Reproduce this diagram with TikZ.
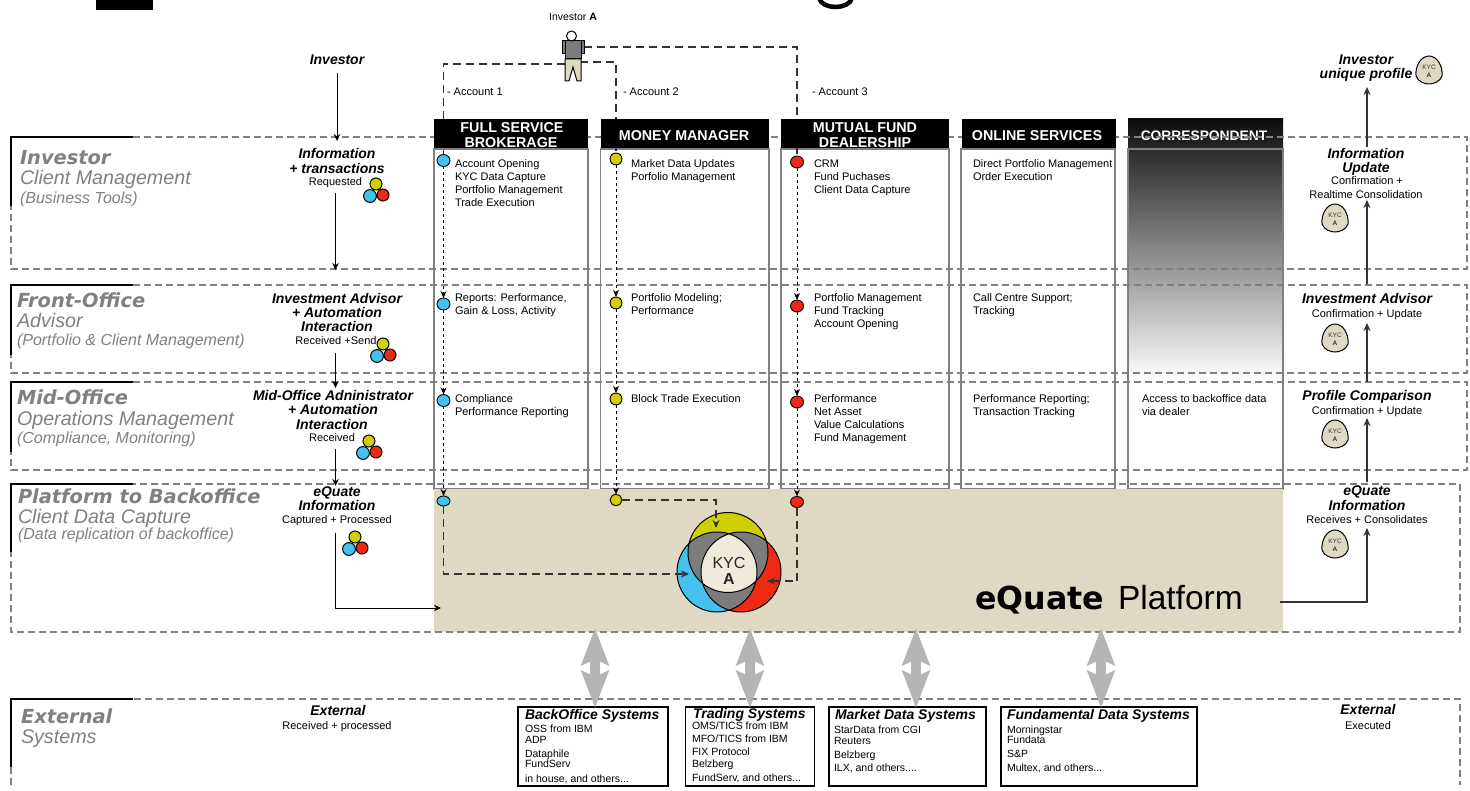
\documentclass[tikz,border=0pt]{standalone}
\usepackage{fontspec}
\setmainfont{Liberation Sans}
\newfontfamily\heavy{DejaVu Sans}
\usetikzlibrary{arrows.meta,shapes.geometric,positioning}
\definecolor{beige}{HTML}{DFD9C4}
\definecolor{core}{HTML}{EFEADB}
\definecolor{cblue}{HTML}{45C1EF}
\definecolor{cyel}{HTML}{CFCF05}
\definecolor{cred}{HTML}{EE2A14}
\definecolor{lgray}{HTML}{808080}
\definecolor{vgray}{HTML}{7C7C7C}
\definecolor{dgray}{HTML}{333333}
\definecolor{arrowgray}{HTML}{B4B4B4}
\newcommand{\fs}[2]{\fontsize{#1}{#2}\selectfont}
\tikzset{
 x=1pt,y=-1pt,
 every node/.style={inner sep=0pt,outer sep=0pt},
 band/.style={draw=lgray,line width=1.1pt,dash pattern=on 7pt off 4pt},
 corner/.style={draw=black,line width=2.4pt,line join=miter},
 colbox/.style={draw=lgray,line width=1.1pt,fill=white},
 headbox/.style={fill=black,anchor=north west,minimum height=29pt},
 headtxt/.style={text=white,font=\bfseries\fs{14.3}{15},align=center,anchor=base},
 hv/.style={text=lgray,anchor=base west,font=\heavy\bfseries\itshape\fs{19.4}{20}},
 mid/.style={text=lgray,anchor=base west,font=\itshape\fs{19.7}{20}},
 par/.style={text=lgray,anchor=base west,font=\itshape\fs{16}{18}},
 bi/.style={anchor=base,font=\bfseries\itshape\fs{14}{14}},
 rg/.style={anchor=base,font=\fs{11}{13}},
 body/.style={anchor=north west,align=left,font=\fs{11}{13}},
 dotb/.style={ellipse,draw=black,line width=0.9pt,fill=cblue,minimum width=13pt,minimum height=12pt},
 doty/.style={dotb,fill=cyel,minimum width=12pt},
 dotr/.style={dotb,fill=cred},
 acct/.style={draw=dgray,line width=1.3pt,dash pattern=on 8pt off 5pt},
 thin dots/.style={draw=black,line width=1pt,dash pattern=on 3pt off 3pt,-{Stealth[length=7pt,width=6pt]}},
 thick dash/.style={draw=dgray,line width=1.3pt,dash pattern=on 8pt off 5pt,-{Stealth[length=8pt,width=7pt]}},
 flow/.style={draw=black,line width=1pt,-{Stealth[length=7pt,width=6.5pt]}},
 flowg/.style={draw=dgray,line width=1.3pt,-{Stealth[length=8pt,width=7pt]}},
 sysbox/.style={draw=black,line width=1.1pt,fill=white,anchor=north west,minimum height=79pt},
 sysarrow/.style={draw=arrowgray,line width=10pt,{Stealth[length=37pt,width=27pt,inset=6pt]}-{Stealth[length=37pt,width=27pt,inset=6pt]}},
 systitle/.style={anchor=base west,font=\bfseries\itshape\fs{14}{14}},
 syslines/.style={anchor=north west,align=left,font=\fs{10.5}{10}},
}
\newcommand{\trio}[2]{%
 \fill[cred,draw=black,line width=1pt] (#1+7,#2+11) circle[radius=6pt];
 \fill[cblue,draw=black,line width=1pt] (#1-6,#2+12) circle[radius=6.4pt];
 \fill[cyel,draw=black,line width=1pt] (#1,#2) circle[radius=6pt];
}
\newcommand{\badge}[3]{%
 \fill[beige,draw=black,line width=1pt] (#2,#3-14) .. controls (#2+8,#3-14) and (#2+14,#3-4) .. (#2+13,#3+6)
   .. controls (#2+11,#3+12) and (#2+4,#3+14) .. (#2,#3+14)
   .. controls (#2-4,#3+14) and (#2-11,#3+12) .. (#2-13,#3+6)
   .. controls (#2-14,#3-4) and (#2-8,#3-14) .. (#2,#3-14) -- cycle;
 \node[text=dgray,font=\fs{6.5}{7}] (#1k) at (#2,#3-3) {KYC};
 \node[text=dgray,font=\bfseries\fs{6.5}{7}] (#1a) at (#2,#3+5) {A};
}
\begin{document}
\begin{tikzpicture}
\useasboundingbox (0,0) rectangle (1470,791);
% cropped title remnants
\fill[black] (96,0) rectangle (153,10);
\draw[black,line width=4.5pt] (819,-2) .. controls (822,10) and (849,10) .. (852,-2);
% column boxes
\draw[colbox] (434,149) rectangle (588,489);
\draw[colbox] (600.5,149) rectangle (769,489);
\draw[colbox] (781,149) rectangle (949,489);
\draw[colbox] (961,149) rectangle (1115,489);
\shade[top color=black!83,bottom color=white] (1128,149) rectangle (1283,381);
\draw[draw=lgray,line width=1.1pt] (1128,149) rectangle (1283,489);
% platform
\node[fill=beige,anchor=north west,minimum width=849pt,minimum height=143pt] (plat) at (434,489) {};
% correspondent header (bands run over it)
\shade[top color=black!95,bottom color=black!85] (1128,119) rectangle (1283,148);
\node[headtxt,text=white,font=\bfseries\fs{13.8}{15}] (hc) at (1204,141) {CORRESPONDENT};
% bands
\draw[band] (11,137) rectangle (1467,269);
\draw[band] (11,285) rectangle (1467,373);
\draw[band] (11,382) rectangle (1467,470);
\draw[band] (11,484) rectangle (1460,632);
\draw[band] (11,785) -- (11,699) -- (1460,699) -- (1460,785);
\draw[corner] (133,137) -- (11,137) -- (11,206);
\draw[corner] (133,285) -- (11,285) -- (11,355);
\draw[corner] (133,382) -- (11,382) -- (11,452);
\draw[corner] (133,484) -- (11,484) -- (11,552);
\draw[corner] (133,699) -- (11,699) -- (11,767);
% dots
\node[dotb] (b1) at (443.5,160.5) {};
\node[dotb] (b2) at (443.5,304) {};
\node[dotb] (b3) at (443.5,400.5) {};
\node[dotb,minimum height=10pt] (b4) at (443.5,501) {};
\node[doty] (y1) at (616,159) {};
\node[doty] (y2) at (616,303) {};
\node[doty] (y3) at (616,399) {};
\node[doty,minimum height=11pt] (y4) at (616,500) {};
\node[dotr] (r1) at (797,162) {};
\node[dotr] (r2) at (797,306) {};
\node[dotr] (r3) at (797,402) {};
\node[dotr,minimum height=11pt] (r4) at (797,502) {};
% account lines
\coordinate (p1) at (565,64);
\coordinate (p2) at (580,62);
\coordinate (p3) at (584,47);
\draw[acct] (p1) -| (b1.north);
\draw[acct] (p2) -| (y1.north);
\draw[acct] (p3) -| (r1.north);
% headers
\node[headbox,minimum width=154pt] (h1) at (434,119) {};
\node[headbox,minimum width=168.5pt] (h2) at (600.5,119) {};
\node[headbox,minimum width=168pt] (h3) at (781,119) {};
\node[headbox,minimum width=154pt] (h4) at (962,119) {};
\begin{scope}
\clip (434,119) rectangle (949,148);
\node[headtxt] (h1a) at (512,133) {FULL SERVICE};
\node[headtxt] (h1b) at (511,148) {BROKERAGE};
\node[headtxt] (h3a) at (865,133) {MUTUAL FUND};
\node[headtxt] (h3b) at (865,148) {DEALERSHIP};
\end{scope}
\node[headtxt] (h2a) at (684,141) {MONEY MANAGER};
\node[headtxt] (h4a) at (1037,141) {ONLINE SERVICES};
% vertical dotted arrows
\draw[thin dots] (b1) -- (b2);
\draw[thin dots] (b2) -- (b3);
\draw[thin dots] (b3) -- (b4);
\draw[thin dots] (y1) -- (y2);
\draw[thin dots] (y2) -- (y3);
\draw[thin dots] (y3) -- (y4);
\draw[thin dots] (r1) -- (r2);
\draw[thin dots] (r2) -- (r3);
\draw[thin dots] (r3) -- (r4);
% venn
\coordinate (vy) at (728,552.5);
\coordinate (vb) at (717,572);
\coordinate (vr) at (741,572);
\fill[cblue] (vb) circle[radius=40pt];
\fill[cred] (vr) circle[radius=40pt];
\fill[cyel] (vy) circle[radius=40pt];
\begin{scope}\clip (vb) circle[radius=40pt]; \fill[vgray] (vr) circle[radius=40pt]; \fill[vgray] (vy) circle[radius=40pt];\end{scope}
\begin{scope}\clip (vr) circle[radius=40pt]; \fill[vgray] (vy) circle[radius=40pt];\end{scope}
\begin{scope}\clip (vb) circle[radius=40pt]; \clip (vr) circle[radius=40pt]; \fill[core] (vy) circle[radius=40pt];\end{scope}
\draw[black,line width=1pt] (vb) circle[radius=40pt] (vr) circle[radius=40pt] (vy) circle[radius=40pt];
\node[font=\fs{16}{16},text=black!85] (kyc) at (729,563) {KYC};
\node[font=\bfseries\fs{16}{16},text=black!85] (kyca) at (729,579) {A};
\coordinate (vt) at (716,528);
\coordinate (vl) at (689,574);
\coordinate (vd) at (767,581);
\draw[thick dash] (b4) |- (vl);
\draw[thick dash] (y4) -| (vt);
\draw[thick dash] (r4) |- (vd);
% person
\fill[vgray,draw=black,line width=1pt] (562,41) rectangle (584,54);
\fill[vgray,draw=black,line width=1pt] (565,41) rectangle (581,59);
\fill[beige,draw=black,line width=1pt] (565,59) -- (581,59) -- (581,81) -- (577,81) -- (573,67) -- (569,81) -- (565,81) -- cycle;
\fill[white,draw=black,line width=1pt] (571.5,36) circle[radius=5pt];
\node[font=\fs{10.5}{12},anchor=base] (inva) at (573,21) {Investor \textbf{A}};
\node[rg,anchor=base west] (ac1) at (447,96) {- Account 1};
\node[rg,anchor=base west] (ac2) at (623,96) {- Account 2};
\node[rg,anchor=base west] (ac3) at (812,96) {- Account 3};
% band titles
\node[hv] (l1a) at (20,165) {Investor};
\node[mid] (l1b) at (20,185) {Client Management};
\node[par] (l1c) at (20,204) {(Business Tools)};
\node[hv] (l2a) at (17,308) {Front-Office};
\node[mid] (l2b) at (17,328) {Advisor};
\node[par] (l2c) at (17,346) {(Portfolio \& Client Management)};
\node[hv] (l3a) at (17,405) {Mid-Office};
\node[mid] (l3b) at (17,425) {Operations Management};
\node[par] (l3c) at (17,443) {(Compliance, Monitoring)};
\node[hv] (l4a) at (18,503) {Platform to Backoffice};
\node[mid] (l4b) at (18,523) {Client Data Capture};
\node[par] (l4c) at (18,539) {(Data replication of backoffice)};
\node[hv] (l5a) at (21,723) {External};
\node[mid] (l5b) at (21,743) {Systems};
% left flow labels
\node[bi] (a0) at (337,65) {Investor};
\node[bi] (a1) at (337,159) {Information};
\node[bi] (a1b) at (337,174) {+ transactions};
\node[rg] (a1c) at (335.5,186) {Requested};
\node[bi] (a2) at (337,304) {Investment Advisor};
\node[bi] (a2b) at (337,318) {+ Automation};
\node[bi] (a2c) at (337,332) {Interaction};
\node[rg] (a2d) at (336,345) {Received +Send};
\node[bi] (a3) at (333,401) {Mid-Office Adninistrator};
\node[bi] (a3b) at (333,415) {+ Automation};
\node[bi] (a3c) at (332,429) {Interaction};
\node[rg] (a3d) at (332,442) {Received};
\node[bi] (a4) at (337,496) {eQuate};
\node[bi] (a4b) at (337,510) {Information};
\node[rg] (a4c) at (337,523) {Captured + Processed};
\node[bi] (a5) at (338,715) {External};
\node[rg] (a5b) at (337,729) {Received + processed};
\trio{376}{184}
\trio{383}{344}
\trio{369}{441}
\trio{355}{537}
% left flow arrows
\coordinate (f0a) at (337,73); \coordinate (f0b) at (337,141);
\coordinate (f1a) at (335.5,193); \coordinate (f1b) at (335.5,270);
\coordinate (f2a) at (335.5,353); \coordinate (f2b) at (335.5,388);
\coordinate (f3a) at (335.5,449); \coordinate (f3b) at (335.5,486);
\coordinate (f4a) at (335.5,533); \coordinate (f4b) at (441,608);
\draw[flow] (f0a) -- (f0b);
\draw[flow] (f1a) -- (f1b);
\draw[flow] (f2a) -- (f2b);
\draw[flow] (f3a) -- (f3b);
\draw[flow] (f4a) |- (f4b);
% column texts
\node[body] (c11) at (455,160) {Account Opening\\KYC Data Capture\\Portfolio Management\\Trade Execution};
\node[body] (c12) at (631,160) {Market Data Updates\\Porfolio Management};
\node[body] (c13) at (814,160) {CRM\\Fund Puchases\\Client Data Capture};
\node[body] (c14) at (973,160) {Direct Portfolio Management\\Order Execution};
\node[body] (c21) at (455,294) {Reports: Performance,\\Gain \& Loss, Activity};
\node[body] (c22) at (631,294) {Portfolio Modeling;\\Performance};
\node[body] (c23) at (814,294) {Portfolio Management\\Fund Tracking\\Account Opening};
\node[body] (c24) at (973,294) {Call Centre Support;\\Tracking};
\node[body] (c31) at (455,395) {Compliance\\Performance Reporting};
\node[body] (c32) at (631,395) {Block Trade Execution};
\node[body] (c33) at (814,395) {Performance\\Net Asset\\Value Calculations\\Fund Management};
\node[body] (c34) at (973,395) {Performance Reporting;\\Transaction Tracking};
\node[body] (c35) at (1142,395) {Access to backoffice data\\via dealer};
% platform label
\node[anchor=base west,font=\heavy\bfseries\fs{31.7}{32}] (pe) at (975,609) {eQuate};
\node[anchor=base west,font=\fs{33.5}{34}] (pp) at (1118,609) {Platform};
% right flow labels
\node[bi] (r0) at (1366,65) {Investor};
\node[bi] (r0b) at (1366,79) {unique profile};
\badge{bg0}{1429}{70}
\node[bi] (ri1) at (1366,159) {Information};
\node[bi] (ri1b) at (1366,173) {Update};
\node[rg] (ri1c) at (1367,185) {Confirmation +};
\node[rg] (ri1d) at (1366,199) {Realtime Consolidation};
\badge{bg1}{1335}{218}
\node[bi] (ri2) at (1367,304) {Investment Advisor};
\node[rg] (ri2b) at (1367,318) {Confirmation + Update};
\badge{bg2}{1335}{338}
\node[bi] (ri3) at (1367,401) {Profile Comparison};
\node[rg] (ri3b) at (1367,414) {Confirmation + Update};
\badge{bg3}{1335}{434}
\node[bi] (ri4) at (1367,495) {eQuate};
\node[bi] (ri4b) at (1367,510) {Information};
\node[rg] (ri4c) at (1367,523) {Receives + Consolidates};
\badge{bg4}{1335}{544}
\node[bi] (ri5) at (1368,714) {External};
\node[rg] (ri5b) at (1368,729) {Executed};
\coordinate (g0a) at (1367,147); \coordinate (g0b) at (1367,87);
\coordinate (g1a) at (1367,284); \coordinate (g1b) at (1367,200);
\coordinate (g2a) at (1367,382); \coordinate (g2b) at (1367,323);
\coordinate (g3a) at (1367,482); \coordinate (g3b) at (1367,418);
\coordinate (g4a) at (1280,602); \coordinate (g4b) at (1367,528);
\draw[flowg] (g0a) -- (g0b);
\draw[flowg] (g1a) -- (g1b);
\draw[flowg] (g2a) -- (g2b);
\draw[flowg] (g3a) -- (g3b);
\draw[flowg] (g4a) -| (g4b);
% system boxes
\node[sysbox,minimum width=150pt] (s1) at (518,707) {};
\node[sysbox,minimum width=129pt] (s2) at (685.5,707) {};
\node[sysbox,minimum width=157pt] (s3) at (829,707) {};
\node[sysbox,minimum width=196pt] (s4) at (1001,707) {};
\coordinate (u1) at (595,628); \coordinate (d1) at (595,708);
\coordinate (u2) at (750,628); \coordinate (d2) at (750,708);
\coordinate (u3) at (916,628); \coordinate (d3) at (916,708);
\coordinate (u4) at (1101,628); \coordinate (d4) at (1101,708);
\draw[sysarrow] (u1) -- (d1);
\draw[sysarrow] (u2) -- (d2);
\draw[sysarrow] (u3) -- (d3);
\draw[sysarrow] (u4) -- (d4);
\node[systitle] (s1t) at (525,719) {BackOffice Systems};
\node[systitle] (s2t) at (693,718) {Trading Systems};
\node[systitle] (s3t) at (835,719) {Market Data Systems};
\node[systitle] (s4t) at (1007,719) {Fundamental Data Systems};
\node[syslines] (s1l) at (525,724.5) {OSS from IBM\\[1pt]ADP\\[4pt]Dataphile\\FundServ\\[5pt]in house, and others...};
\node[syslines] (s2l) at (692,721.5) {OMS/TICS from IBM\\[3pt]MFO/TICS from IBM\\[3pt]FIX Protocol\\[2pt]Belzberg\\[4pt]FundServ, and others...};
\node[syslines] (s3l) at (834,725.5) {StarData from CGI\\[1pt]Reuters\\[4pt]Belzberg\\[3pt]ILX, and others....};
\node[syslines] (s4l) at (1007,725.5) {Morningstar\\[0pt]Fundata\\[4pt]S\&P\\[4pt]Multex, and others...};
\end{tikzpicture}
\end{document}
